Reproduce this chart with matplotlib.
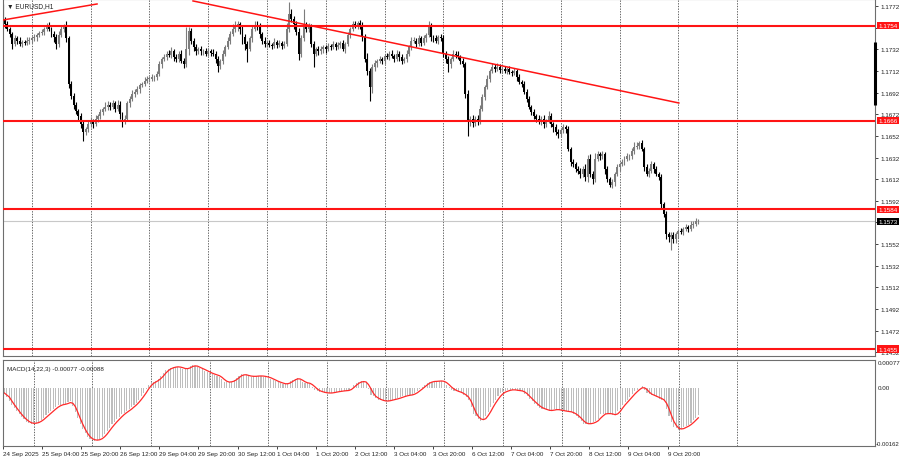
import numpy as np
import pandas as pd
import matplotlib
matplotlib.use("Agg")
import matplotlib.pyplot as plt
import matplotlib.transforms as mtransforms

# EURUSD H1 closes, one row per trading day (24 Sep 12:00 .. 10 Oct 08:00)
closes = [
    1.1760, 1.1755, 1.1751, 1.1746, 1.1737, 1.1742, 1.1740, 1.1737, 1.1739, 1.1738, 1.1740, 1.1741,
    1.1742, 1.1743, 1.1745, 1.1747, 1.1748, 1.1751, 1.1753, 1.1751, 1.1746, 1.1743, 1.1737, 1.1745,
    1.1751, 1.1753, 1.1742, 1.1700, 1.1689, 1.1681, 1.1675, 1.1670, 1.1663, 1.1656, 1.1658, 1.1663,
    1.1666, 1.1663, 1.1668, 1.1670, 1.1674, 1.1677, 1.1679, 1.1681, 1.1679, 1.1682, 1.1677, 1.1681,
    1.1672, 1.1666, 1.1668, 1.1682, 1.1686, 1.1691, 1.1693, 1.1695, 1.1699, 1.1700, 1.1703, 1.1705,
    1.1705, 1.1706, 1.1706, 1.1709, 1.1718, 1.1723, 1.1725, 1.1728, 1.1727, 1.1730, 1.1725, 1.1723,
    1.1728, 1.1721, 1.1718, 1.1732, 1.1749, 1.1740, 1.1734, 1.1730, 1.1732, 1.1730, 1.1730, 1.1728,
    1.1730, 1.1729, 1.1728, 1.1723, 1.1717, 1.1721, 1.1728, 1.1734, 1.1740, 1.1746, 1.1751, 1.1753,
    1.1755, 1.1751, 1.1743, 1.1737, 1.1732, 1.1742, 1.1751, 1.1754, 1.1753, 1.1746, 1.1740, 1.1737,
    1.1738, 1.1736, 1.1735, 1.1739, 1.1736, 1.1738, 1.1735, 1.1737, 1.1751, 1.1765, 1.1760, 1.1755,
    1.1748, 1.1728, 1.1742, 1.1753, 1.1751, 1.1753, 1.1737, 1.1728, 1.1732, 1.1730, 1.1732, 1.1734,
    1.1732, 1.1735, 1.1734, 1.1737, 1.1734, 1.1736, 1.1738, 1.1732, 1.1737, 1.1745, 1.1751, 1.1755,
    1.1754, 1.1756, 1.1753, 1.1743, 1.1723, 1.1712, 1.1697, 1.1716, 1.1719, 1.1721, 1.1723, 1.1721,
    1.1726, 1.1725, 1.1728, 1.1726, 1.1723, 1.1728, 1.1725, 1.1721, 1.1723, 1.1728, 1.1734, 1.1740,
    1.1740, 1.1737, 1.1742, 1.1738, 1.1742, 1.1745, 1.1753, 1.1743, 1.1742, 1.1740, 1.1743, 1.1742,
    1.1728, 1.1723, 1.1718, 1.1723, 1.1728, 1.1727, 1.1725, 1.1721, 1.1718, 1.1691, 1.1666, 1.1668,
    1.1664, 1.1668, 1.1666, 1.1677, 1.1688, 1.1697, 1.1705, 1.1712, 1.1716, 1.1714, 1.1716, 1.1713,
    1.1714, 1.1712, 1.1714, 1.1711, 1.1710, 1.1712, 1.1706, 1.1702, 1.1700, 1.1693, 1.1686, 1.1679,
    1.1674, 1.1670, 1.1668, 1.1665, 1.1668, 1.1663, 1.1666, 1.1670, 1.1663, 1.1660, 1.1656, 1.1654,
    1.1657, 1.1660, 1.1658, 1.1640, 1.1628, 1.1626, 1.1621, 1.1620, 1.1617, 1.1621, 1.1614, 1.1631,
    1.1617, 1.1612, 1.1631, 1.1635, 1.1633, 1.1635, 1.1621, 1.1612, 1.1607, 1.1609, 1.1617, 1.1623,
    1.1626, 1.1628, 1.1631, 1.1633, 1.1633, 1.1638, 1.1642, 1.1643, 1.1645, 1.1640, 1.1623, 1.1617,
    1.1620, 1.1626, 1.1621, 1.1617, 1.1614, 1.1589, 1.1580, 1.1561, 1.1559, 1.1560, 1.1557, 1.1561,
    1.1564, 1.1563, 1.1566, 1.1568, 1.1566, 1.1570, 1.1571, 1.1573, 1.1573,
]
first_open = 1.1769

# wick lengths beyond the body, in pips
wick_up = [
    5, 2, 3, 2, 2, 3, 2, 3, 2, 2, 3, 2,
    2, 3, 2, 2, 3, 2, 3, 4, 2, 3, 3, 4, 3, 2, 5, 2, 3, 3, 2, 2, 3, 3, 2, 3,
    3, 2, 3, 2, 3, 2, 4, 3, 2, 3, 2, 4, 3, 2, 3, 2, 3, 3, 2, 3, 2, 2, 3, 2,
    2, 3, 2, 3, 3, 2, 3, 2, 3, 4, 2, 3, 2, 3, 3, 21, 4, 3, 2, 3, 2, 3, 2, 3,
    3, 2, 3, 2, 3, 2, 3, 2, 3, 3, 4, 5, 3, 2, 3, 3, 3, 2, 3, 4, 4, 3, 2, 3,
    2, 3, 2, 3, 2, 3, 2, 3, 5, 11, 4, 3, 3, 4, 3, 16, 4, 3, 2, 3, 2, 3, 3, 2,
    2, 3, 2, 3, 2, 3, 2, 3, 2, 3, 2, 3, 3, 2, 3, 4, 3, 6, 3, 2, 3, 2, 3, 2,
    2, 3, 2, 3, 2, 3, 2, 3, 2, 3, 2, 3, 3, 2, 3, 2, 3, 2, 5, 3, 2, 3, 2, 3,
    3, 2, 3, 2, 3, 2, 3, 2, 3, 2, 3, 2, 3, 2, 3, 4, 3, 2, 3, 2, 3, 2, 3, 2,
    2, 3, 2, 3, 2, 3, 2, 3, 2, 3, 2, 3, 2, 3, 2, 3, 2, 3, 2, 5, 3, 2, 3, 2,
    2, 3, 2, 3, 2, 3, 2, 3, 2, 3, 5, 3, 4, 3, 5, 3, 2, 3, 2, 3, 2, 3, 2, 3,
    2, 3, 2, 3, 2, 3, 4, 3, 2, 3, 2, 3, 2, 3, 2, 3, 2, 3, 2, 3, 2, 3, 3, 2,
    2, 3, 2, 3, 2, 3, 2, 3, 2,
]
wick_dn = [
    2, 3, 2, 3, 5, 2, 3, 2, 3, 2, 2, 3,
    3, 2, 3, 2, 2, 3, 2, 2, 3, 4, 5, 3, 2, 3, 3, 4, 3, 4, 3, 3, 4, 9, 3, 2,
    3, 4, 2, 3, 2, 3, 2, 3, 3, 2, 3, 2, 4, 6, 3, 2, 3, 2, 3, 2, 3, 2, 2, 2,
    3, 2, 3, 2, 2, 3, 2, 3, 2, 3, 4, 3, 3, 2, 3, 2, 5, 3, 4, 3, 2, 3, 3, 2,
    2, 3, 2, 4, 6, 3, 3, 2, 2, 3, 2, 3, 4, 5, 6, 6, 12, 2, 3, 2, 3, 4, 3, 3,
    3, 2, 3, 2, 3, 2, 3, 2, 2, 3, 3, 4, 3, 6, 3, 2, 3, 3, 3, 12, 2, 3, 2, 3,
    3, 2, 3, 2, 3, 2, 3, 2, 3, 2, 3, 2, 2, 3, 2, 3, 3, 4, 13, 5, 4, 3, 2, 3,
    3, 2, 3, 2, 3, 2, 4, 3, 2, 3, 2, 3, 2, 3, 2, 3, 2, 3, 2, 3, 3, 2, 3, 2,
    3, 4, 7, 3, 2, 3, 2, 3, 2, 4, 14, 5, 4, 3, 4, 3, 2, 3, 2, 3, 2, 3, 2, 3,
    3, 2, 3, 2, 3, 2, 3, 2, 3, 2, 3, 2, 3, 2, 3, 2, 3, 4, 3, 2, 3, 4, 3, 4,
    3, 2, 3, 2, 4, 3, 2, 3, 4, 3, 4, 5, 3, 4, 3, 2, 3, 2, 4, 3, 2, 3, 3, 2,
    3, 2, 3, 2, 3, 2, 3, 2, 3, 2, 3, 2, 3, 2, 3, 2, 3, 4, 3, 4, 5, 12, 4, 4,
    3, 2, 3, 2, 3, 2, 3, 2, 2,
]

# MACD(14,22,3) main line, in points (1e-5)
macd_pts = [
    -15, -26, -37, -47, -56, -65, -74, -82, -88, -94, -98, -100,
    -99, -97, -95, -89, -83, -77, -71, -65, -59, -54, -49, -47,
    -46, -45, -41, -38, -51, -68, -85, -102, -115, -127, -138, -142,
    -145, -147, -145, -142, -138, -129, -120, -111, -102, -95, -88, -81,
    -74, -69, -65, -60, -54, -48, -42, -33, -24, -15, -4, 8,
    12, 16, 20, 24, 32, 40, 49, 52, 55, 58, 58, 58,
    56, 53, 51, 55, 59, 63, 60, 57, 54, 51, 47, 44,
    40, 38, 36, 33, 31, 23, 15, 16, 16, 17, 22, 28,
    33, 38, 36, 34, 32, 31, 32, 32, 33, 33, 31, 30,
    28, 25, 21, 18, 15, 13, 11, 9, 13, 18, 22, 25,
    27, 21, 15, 14, 12, 11, 3, -5, -8, -11, -13, -14,
    -15, -15, -14, -12, -11, -10, -9, -8, -8, -7, 0, 8,
    12, 16, 19, 16, 13, -3, -19, -24, -29, -33, -35, -37,
    -38, -36, -34, -33, -31, -29, -27, -24, -22, -21, -20, -19,
    -14, -9, -4, 2, 8, 13, 17, 17, 18, 18, 19, 19,
    15, 8, 2, -5, -8, -10, -13, -15, -20, -26, -33, -54,
    -74, -80, -87, -93, -86, -79, -67, -54, -42, -33, -24, -15,
    -12, -10, -7, -5, -6, -7, -8, -9, -10, -17, -24, -31,
    -38, -44, -50, -56, -58, -60, -63, -65, -62, -60, -61, -62,
    -64, -65, -66, -67, -68, -73, -78, -83, -92, -100, -100, -100,
    -100, -96, -92, -88, -74, -73, -72, -71, -73, -75, -77, -66,
    -56, -48, -40, -33, -25, -18, -10, -5, 0, 4, -5, -15,
    -18, -21, -24, -26, -30, -34, -38, -58, -79, -94, -108, -113,
    -117, -114, -110, -107, -104, -97, -90, -84, -77,
]

date_labels = ["24 Sep 2025", "25 Sep 04:00", "25 Sep 20:00", "26 Sep 12:00",
               "29 Sep 04:00", "29 Sep 20:00", "30 Sep 12:00", "1 Oct 04:00",
               "1 Oct 20:00", "2 Oct 12:00", "3 Oct 04:00", "3 Oct 20:00",
               "6 Oct 12:00", "7 Oct 04:00", "7 Oct 20:00", "8 Oct 12:00",
               "9 Oct 04:00", "9 Oct 20:00"]
label_step = 16
day_starts = [12 + 24 * k for k in range(13)]

levels = [1.1754, 1.1666, 1.1584, 1.1455]
last_price = 1.1573
trend_a = ([0.2, 38.6], [1.17591, 1.17739])
trend_b = ([77.8, 276.2], [1.17767, 1.16824])
price_ticks = [round(1.1772 - 0.002 * k, 4) for k in range(17)]
hidden_ticks = [1.1752, 1.1572]  # covered by the level boxes
macd_top, macd_bottom = 0.00077, -0.00162

FONT = ['Liberation Sans Narrow', 'Liberation Sans', 'DejaVu Sans']
FS = 4.5
RED = '#ff1414'

c = np.array(closes)
o = np.r_[first_open, c[:-1]]
hi = np.maximum(o, c) + np.array(wick_up) * 1e-4
lo = np.minimum(o, c) - np.array(wick_dn) * 1e-4
idx = np.arange(len(c))
up = c >= o
col = np.where(up, '#7c7c7c', '#000000')

macd = np.array(macd_pts) * 1e-5
signal = pd.Series(macd).rolling(3, min_periods=1).mean()

fig = plt.figure(figsize=(9, 4.6), dpi=100, facecolor='white')
W, H = 900, 460
ax = fig.add_axes([3 / W, 1 - 357 / H, 872 / W, 357 / H])
ax2 = fig.add_axes([3 / W, 1 - 447 / H, 872 / W, 86 / H])

for a in (ax, ax2):
    a.set_xlim(0.2, 356.3)
    for s in a.spines.values():
        s.set_color('#6e6e6e')
        s.set_linewidth(0.8)
    for d in day_starts:
        a.axvline(d, color='#4a4a4a', lw=0.6, ls=(0, (1.6, 1.6)), zorder=0.5)

# main pane
ax.set_ylim(1.14486, 1.17785)
ax.vlines(idx, lo, hi, colors=col, lw=0.8, zorder=2)
body = np.maximum(np.abs(c - o), 0.00003)
ax.bar(idx, body, bottom=np.minimum(o, c), width=0.8, color=col, lw=0, zorder=2.1)

ax.axhline(last_price, color='#c8c8c8', lw=0.8, zorder=1)
for lv in levels:
    ax.axhline(lv, color=RED, lw=1.5, zorder=3)
ax.plot(*trend_a, color=RED, lw=1.1, zorder=3)
ax.plot(*trend_b, color=RED, lw=1.1, zorder=3)

ax.yaxis.tick_right()
ax.set_yticks(price_ticks)
ax.set_yticklabels(["" if t in hidden_ticks else f"{t:.4f}" for t in price_ticks])
ax.tick_params(axis='y', length=2, width=0.6, pad=2, labelsize=FS, colors='#222222')
for lab in ax.get_yticklabels():
    lab.set_family(FONT)
ax.set_xticks([])

blend = mtransforms.blended_transform_factory(ax.transAxes, ax.transData)
for lv in levels:
    ax.text(1.0035, lv, f"{lv:.4f}", transform=blend, color='white', fontsize=FS,
            family=FONT, va='center', ha='left', zorder=5, clip_on=False,
            bbox=dict(boxstyle='square,pad=0.2', fc=RED, ec='none'))
ax.text(1.0035, last_price, f"{last_price:.4f}", transform=blend, color='white',
        fontsize=FS, family=FONT, va='center', ha='left', zorder=5, clip_on=False,
        bbox=dict(boxstyle='square,pad=0.2', fc='black', ec='none'))
ax.plot([1, 1], [1 - 43 / 357, 1 - 106 / 357], transform=ax.transAxes,
        color='black', lw=2.2, clip_on=False, zorder=6, solid_capstyle='butt')
ax.text(0.005, 1 - 7 / 357, "\u25bc EURUSD,H1", transform=ax.transAxes, fontsize=FS + 0.3,
        family=FONT, va='center', ha='left', color='#222222')

# MACD pane
ax2.set_ylim(macd_bottom, macd_top)
ax2.bar(idx, macd, width=0.45, color='#bdbdbd', lw=0, zorder=1)
ax2.plot(idx, signal, color='#ff2a2a', lw=0.9, zorder=2)
ax2.set_yticks([])
blend2 = mtransforms.blended_transform_factory(ax2.transAxes, ax2.transData)
ax2.text(1.003, macd_top, "0.00077", transform=blend2, fontsize=FS, family=FONT,
         va='top', ha='left', color='#222222', clip_on=False)
ax2.text(1.003, 0, "0.00", transform=blend2, fontsize=FS, family=FONT,
         va='center', ha='left', color='#222222', clip_on=False)
ax2.text(1.0005, macd_bottom, "-0.00162", transform=blend2, fontsize=FS - 0.2, family=FONT,
         va='bottom', ha='left', color='#222222', clip_on=False)
ax2.text(0.005, 0.93, "MACD(14,22,3) -0.00077 -0.00088", transform=ax2.transAxes,
         fontsize=FS, family=FONT, va='top', ha='left', color='#222222')

label_pos = [label_step * k - 0.6 for k in range(len(date_labels))]
ax2.set_xticks(label_pos)
ax2.set_xticklabels(date_labels, ha='left')
ax2.tick_params(axis='x', length=2, width=0.6, pad=1.5, labelsize=FS, colors='#222222')
for lab in ax2.get_xticklabels():
    lab.set_family(FONT)

fig.savefig("out.png", dpi=100, facecolor='white')
